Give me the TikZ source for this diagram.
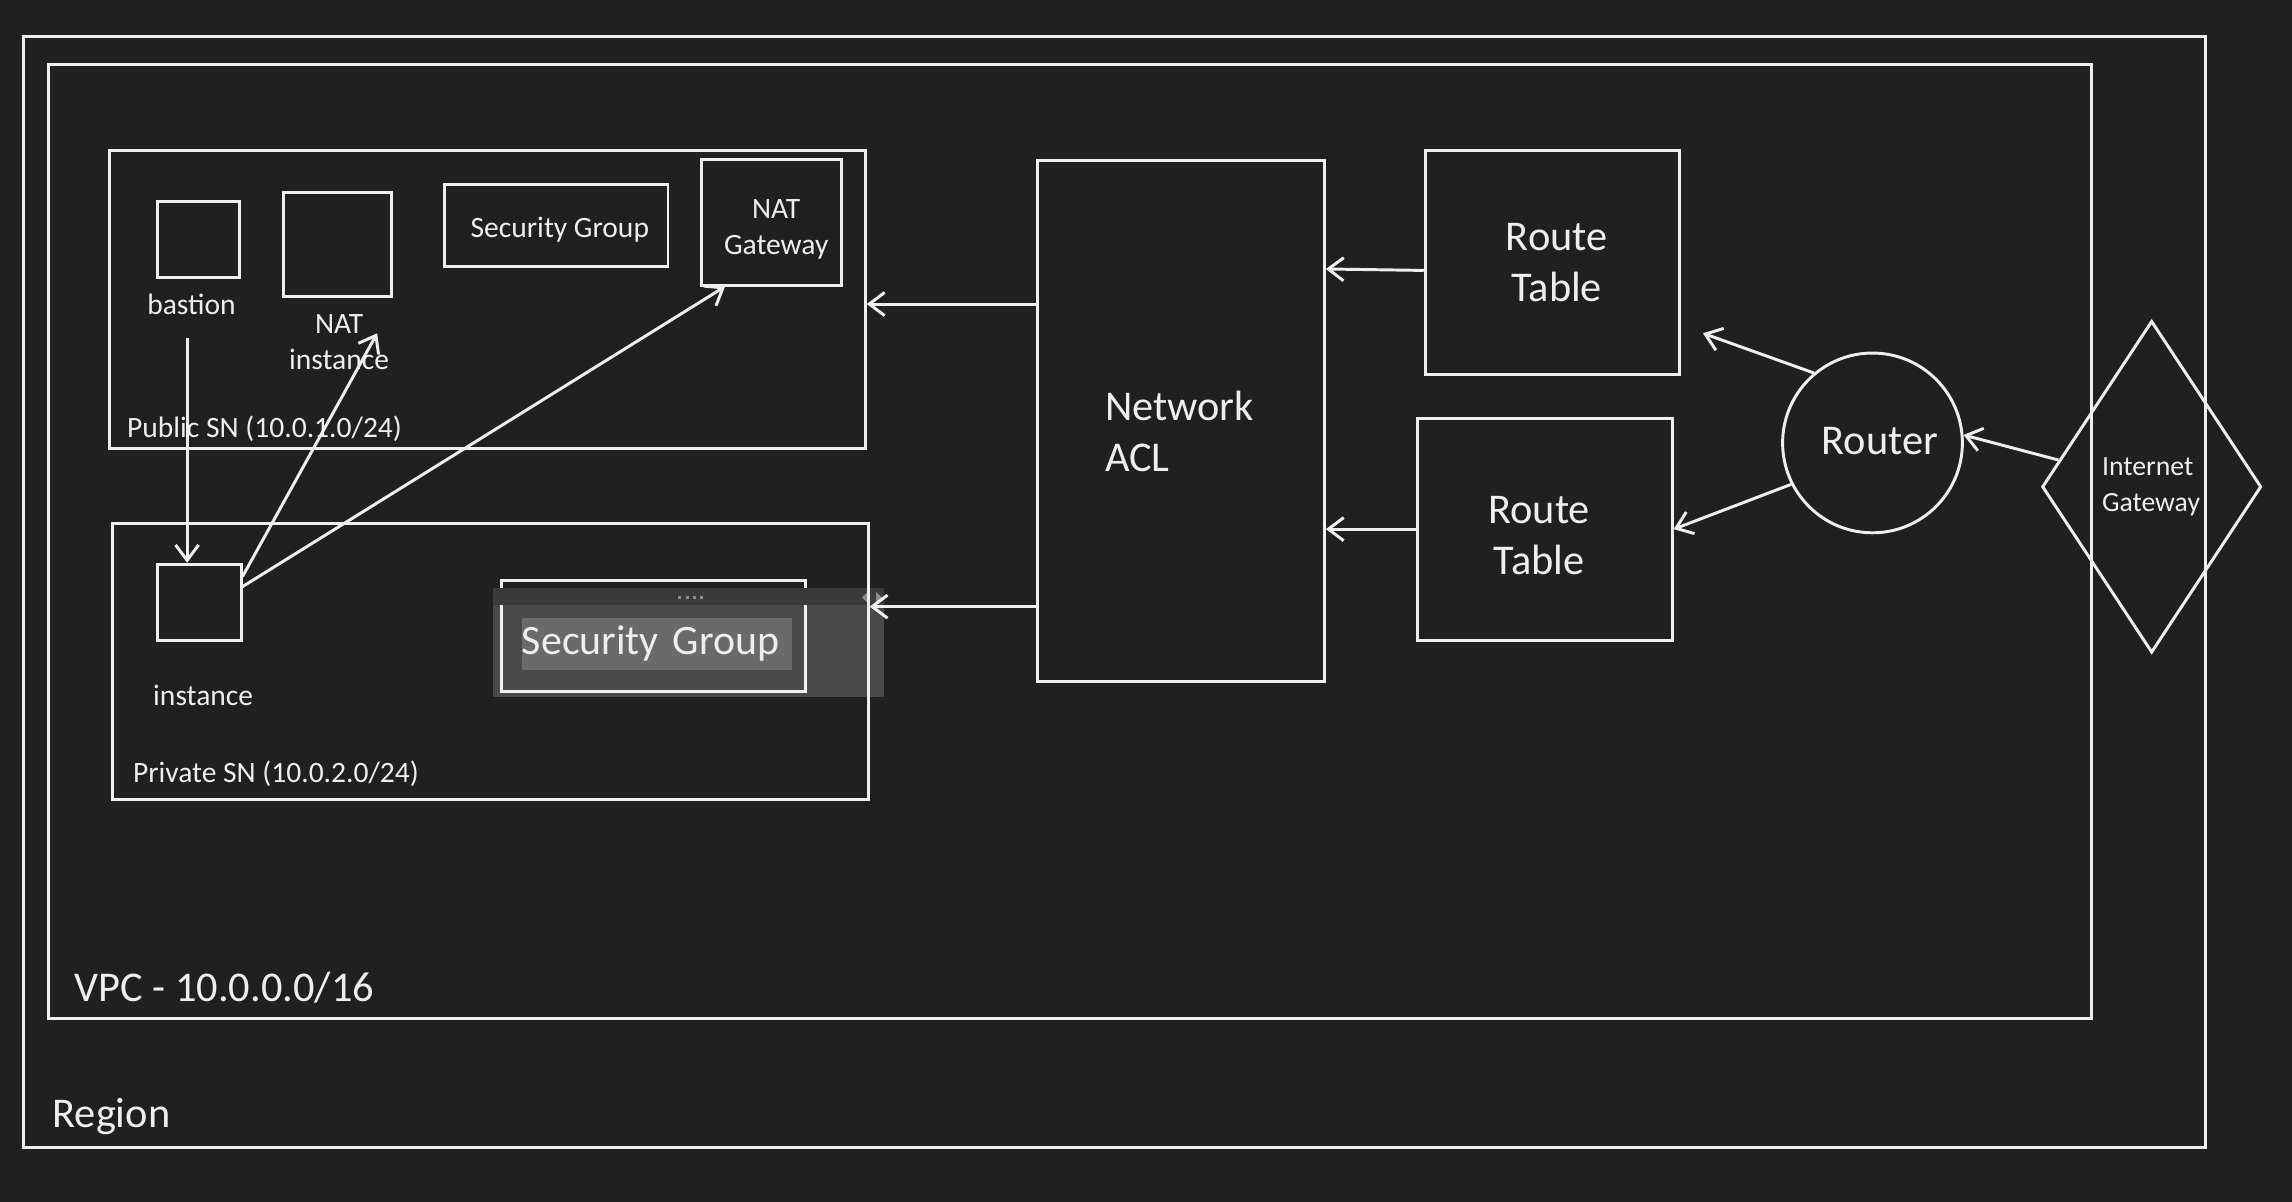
\documentclass[tikz,border=0pt]{standalone}
\usepackage{fontspec}
\setmainfont{Carlito}
\usetikzlibrary{arrows.meta,shapes.geometric}

\definecolor{bgdark}{HTML}{202020}
\definecolor{chalk}{HTML}{EEEEEE}
\definecolor{panegrey}{HTML}{3A3A3A}
\definecolor{selgrey}{HTML}{6A6A6A}
\definecolor{dotgrey}{HTML}{8C8C8C}

\begin{document}
\begin{tikzpicture}[x=0.02cm, y=-0.02cm, line width=1.15pt,
	>={Straight Barb[length=6pt,width=9pt]},
	box/.style={shape=rectangle, draw=chalk, inner sep=0pt},
	bigtxt/.style={text=chalk, font=\fontsize{16.5}{20}\selectfont, align=center},
	smalltxt/.style={text=chalk, font=\fontsize{11.5}{14}\selectfont, align=center},
	link/.style={->, color=chalk}]
	
	\fill[bgdark] (0, 0) rectangle (1568, 822);
	\useasboundingbox (0, 0) rectangle (1568, 822);
	
	% region and vpc
	\node[box, minimum width=29.86cm, minimum height=15.2cm] (region) at (762.5, 405) {};
	\node[box, minimum width=27.96cm, minimum height=13.06cm] (vpc) at (732, 370.5) {};
	\node[bigtxt, anchor=west, inner sep=0pt] (regionlbl) at (35, 764) {Region};
	\node[bigtxt, anchor=west, inner sep=0pt] (vpclbl) at (50, 676) {VPC - 10.0.0.0/16};
	
	
	% public subnet
	\node[box, minimum width=10.34cm, minimum height=4.08cm] (pubsn) at (333.5, 205) {};
	\node[smalltxt, anchor=west, inner sep=0pt] (pubsnlbl) at (86, 293) {Public SN (10.0.1.0/24)};
	\node[box, minimum width=1.12cm, minimum height=1.04cm] (bastion) at (136, 164) {};
	\node[smalltxt] (bastionlbl) at (131, 208) {bastion};
	\node[box, minimum width=1.48cm, minimum height=1.42cm] (natinst) at (231, 167.5) {};
	\node[smalltxt] (natinstlbl) at (232, 234) {NAT\\instance};
	\node[box, minimum width=3.06cm, minimum height=1.12cm] (pubsg) at (380.5, 154) {};
	\node[smalltxt] (pubsglbl) at (383, 157) {Security Group};
	\node[box, minimum width=1.92cm, minimum height=1.72cm] (natgw) at (528, 152) {};
	\node[smalltxt] (natgwlbl) at (531, 157) {NAT\\Gateway};
	
	
	% private subnet
	\node[box, minimum width=1.14cm, minimum height=1.04cm] (inst) at (136.5, 412) {};
	\node[smalltxt] (instlbl) at (139, 476) {instance};
	\node[smalltxt, anchor=west, inner sep=0pt] (privsnlbl) at (90, 529) {Private SN (10.0.2.0/24)};
	\node[box, minimum width=4.16cm, minimum height=1.52cm] (privsg) at (447, 435) {};
	
	%\fill[selgrey] (337, 402) rectangle (605, 477);
	\fill[white, fill opacity=0.19] (337, 414) rectangle (605, 477);
	\fill[panegrey] (337, 402) rectangle (605, 414);
	\foreach \dx in {0,1,2,3}
		\fill[dotgrey] (464+5*\dx, 407.5) rectangle +(2.2, 2.2);
	\fill[dotgrey] (593.6, 405) -- (593.6, 412.5) -- (589.7, 408.7) -- cycle;
	\fill[dotgrey] (599.3, 405) -- (599.3, 412.5) -- (603.4, 408.7) -- cycle;
	
	\node[box, minimum width=10.34cm, minimum height=3.78cm] (privsn) at (335.5, 452.5) {};
	\node[fill=selgrey, text=chalk, font=\fontsize{16.3}{19}\selectfont, inner sep=0pt,
		text width=3.69cm, align=left, minimum height=0.714cm] (privsglbl) at (449.3, 440.5) {Security Group};
	
	
	% acl, route tables, router, gateway
	\node[box, minimum width=3.92cm, minimum height=7.12cm] (acl) at (808, 288) {};
	\node[bigtxt, anchor=west, align=left, inner sep=0pt] (acllbl) at (755, 295) {Network\\ACL};
	\node[box, minimum width=3.48cm, minimum height=3.06cm] (rt1) at (1062, 179.5) {};
	\node[bigtxt] (rt1lbl) at (1065, 179.5) {Route\\Table};
	\node[box, minimum width=3.48cm, minimum height=3.04cm] (rt2) at (1057, 362) {};
	\node[bigtxt] (rt2lbl) at (1053, 366.5) {Route\\Table};
	\node[shape=circle, draw=chalk, minimum size=2.46cm, inner sep=0pt] (router) at (1281, 303) {};
	\node[bigtxt] (routerlbl) at (1286, 302) {Router};
	\node[shape=diamond, draw=chalk, minimum width=3cm, minimum height=4.54cm, inner sep=0pt] (igw) at (1472, 333) {};
	\node[text=chalk, font=\fontsize{10.8}{13.7}\selectfont, align=left, anchor=west, inner sep=0pt] (igwlbl) at (1437, 333) {Internet\\Gateway};
	
	
	% connectors
	\coordinate (bastiontail) at (128, 231);
	\coordinate (natinsthead) at (258, 228);
	\coordinate (rt1head) at (1165, 228);
	
	\path[link] (bastiontail) edge (bastiontail |- inst.north);
	\path[link] (inst.31) edge (natinsthead);
	\path[link] (inst.20) edge (natgw.234);
	
	\path[link] (acl.west |- 0,208) edge (pubsn.east |- 0,208);
	\path[link] (acl.west |- 0,415) edge (privsn.east |- 0,415);
	\path[link] (rt1.west |- 0,185) edge (acl.east |- 0,184);
	\path[link] (rt2.west) edge (rt2.west -| acl.east);
	
	\path[link] (router.130) edge (rt1head);
	\path[link] (router.207) edge (rt2.east);
	\path[link] (igw.164) edge (router.5);
	
\end{tikzpicture}
\end{document}
